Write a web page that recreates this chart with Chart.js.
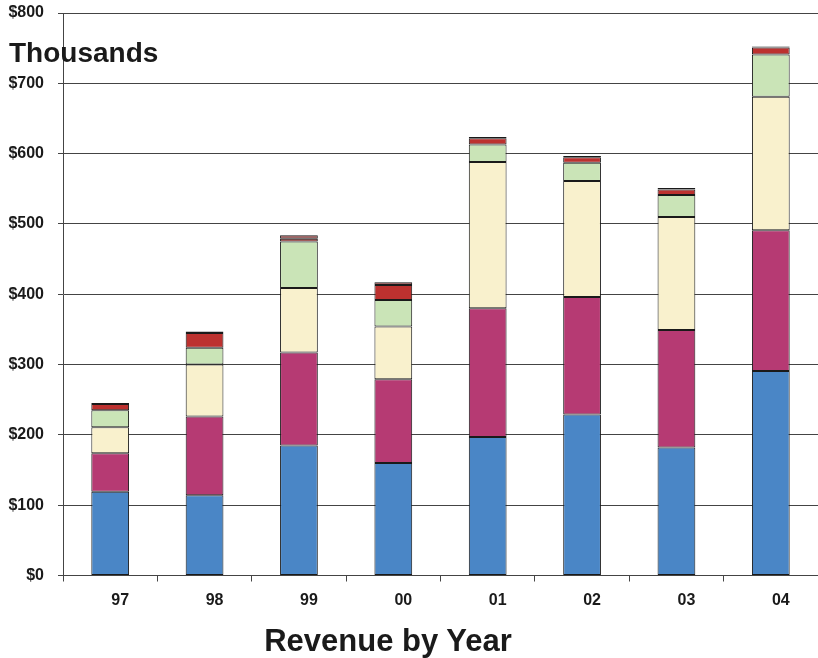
<!DOCTYPE html>
<html>
<head>
<meta charset="utf-8">
<script src="https://cdn.jsdelivr.net/npm/chart.js@4/dist/chart.umd.min.js"></script>
<style>
  html, body { margin: 0; padding: 0; background: #fff; }
  #wrap { position: relative; width: 818px; height: 658px; }
  #c { position: absolute; left: 0; top: 0; }
  .txt { position: absolute; font-family: "Liberation Sans", Arial, sans-serif; font-weight: bold; color: #1a1a1a; white-space: nowrap; }
  #units { left: 9px; top: 39px; font-size: 28px; line-height: 28px; }
  #title { left: 0; width: 776px; text-align: center; top: 625px; font-size: 31px; line-height: 31px; }
</style>
</head>
<body>
<div id="wrap">
  <canvas id="c" width="818" height="658"></canvas>
  <div class="txt" id="units">Thousands</div>
  <div class="txt" id="title">Revenue by Year</div>
</div>
<script>
const years = ["97", "98", "99", "00", "01", "02", "03", "04"];
const seriesA = [119, 114, 185, 160, 197, 229, 182, 291];
const seriesB = [55, 112, 132, 119, 183, 167, 167, 200];
const seriesC = [37, 74, 92, 75, 208, 165, 161, 190];
const seriesD = [24, 24, 66, 38, 25, 26, 31, 60];
const seriesE = [9, 21, 4, 21, 9, 8, 8, 10];
const seriesF = [1.5, 2, 5, 4, 1.5, 1.5, 2, 1.5];
const yTicks = [0, 100, 200, 300, 400, 500, 600, 700, 800];

const colors = ["#4a86c6", "#b63a73", "#f9f1cd", "#cae4b7", "#bc312f", "#8e4848"];
const seriesList = [seriesA, seriesB, seriesC, seriesD, seriesE, seriesF];

new Chart(document.getElementById("c"), {
  type: "bar",
  data: {
    labels: years,
    datasets: seriesList.map((s, i) => ({
      label: "S" + (i + 1),
      data: s,
      backgroundColor: colors[i],
      borderColor: "#1a1a1a",
      borderWidth: 1,
      borderSkipped: false,
      categoryPercentage: 1,
      barPercentage: 0.4
    }))
  },
  options: {
    responsive: false,
    animation: false,
    devicePixelRatio: 1,
    layout: { padding: { top: 13, right: 0, bottom: 0, left: 0 } },
    plugins: { legend: { display: false }, tooltip: { enabled: false }, title: { display: false } },
    scales: {
      x: {
        stacked: true,
        afterFit: (s) => { s.height = 82.5; s.paddingLeft = 0; s.paddingRight = 0; },
        border: { display: true, color: "#444", width: 1 },
        grid: { offset: true, drawOnChartArea: false, drawTicks: true, tickLength: 6, color: "#444" },
        ticks: {
          padding: 9,
          labelOffset: 10,
          color: "#1a1a1a",
          font: { family: "'Liberation Sans', Arial, sans-serif", size: 16, weight: "bold" }
        }
      },
      y: {
        stacked: true,
        min: 0,
        max: 800,
        afterFit: (s) => { s.width = 63; s.paddingTop = 0; s.paddingBottom = 0; },
        afterBuildTicks: (s) => { s.ticks = yTicks.map(v => ({ value: v })); },
        border: { display: true, color: "#444", width: 1 },
        grid: { color: "#444", lineWidth: 1, tickLength: 5, drawTicks: true },
        ticks: {
          padding: 14,
          color: "#1a1a1a",
          font: { family: "'Liberation Sans', Arial, sans-serif", size: 16, weight: "bold" },
          callback: (v) => "$" + v
        }
      }
    }
  }
});
</script>
</body>
</html>
